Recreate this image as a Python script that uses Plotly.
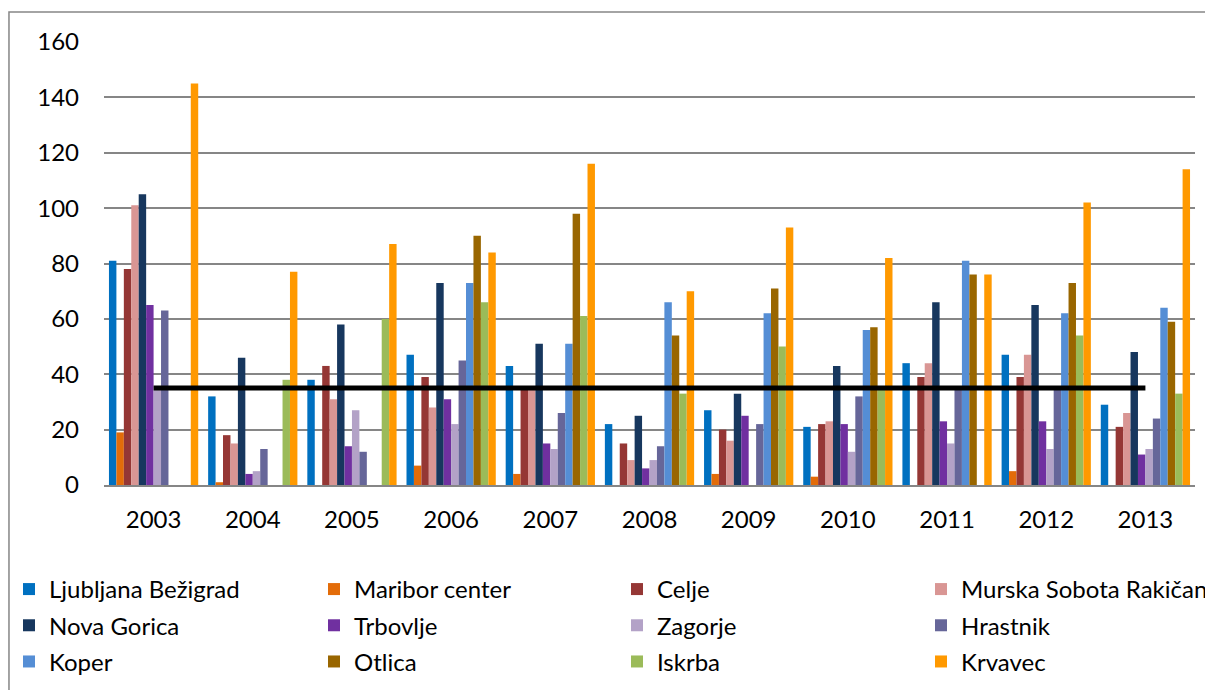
import plotly.graph_objects as go

years = ["2003", "2004", "2005", "2006", "2007", "2008", "2009", "2010", "2011", "2012", "2013"]

ljubljana_bezigrad = [81, 32, 38, 47, 43, 22, 27, 21, 44, 47, 29]
maribor_center = [19, 1, 0, 7, 4, 0, 4, 3, 0, 5, 0]
celje = [78, 18, 43, 39, 35, 15, 20, 22, 39, 39, 21]
murska_sobota = [101, 15, 31, 28, 35, 9, 16, 23, 44, 47, 26]
nova_gorica = [105, 46, 58, 73, 51, 25, 33, 43, 66, 65, 48]
trbovlje = [65, 4, 14, 31, 15, 6, 25, 22, 23, 23, 11]
zagorje = [35, 5, 27, 22, 13, 9, 0, 12, 15, 13, 13]
hrastnik = [63, 13, 12, 45, 26, 14, 22, 32, 35, 35, 24]
koper = [0, 0, 0, 73, 51, 66, 62, 56, 81, 62, 64]
otlica = [0, 0, 0, 90, 98, 54, 71, 57, 76, 73, 59]
iskrba = [0, 38, 60, 66, 61, 33, 50, 35, 0, 54, 33]
krvavec = [145, 77, 87, 84, 116, 70, 93, 82, 76, 102, 114]

limit_value = [35] * len(years)

series = [
    ("Ljubljana Bežigrad", ljubljana_bezigrad, "#0070C0"),
    ("Maribor center", maribor_center, "#E36C09"),
    ("Celje", celje, "#953735"),
    ("Murska Sobota Rakičan", murska_sobota, "#D99694"),
    ("Nova Gorica", nova_gorica, "#17375E"),
    ("Trbovlje", trbovlje, "#7030A0"),
    ("Zagorje", zagorje, "#B3A2C7"),
    ("Hrastnik", hrastnik, "#666699"),
    ("Koper", koper, "#558ED5"),
    ("Otlica", otlica, "#996600"),
    ("Iskrba", iskrba, "#9BBB59"),
    ("Krvavec", krvavec, "#FF9900"),
]

# one legend per column, so the legend reads in rows of four like the original
legend_names = ["legend", "legend2", "legend3", "legend4"]

fig = go.Figure()
for i, (name, values, color) in enumerate(series):
    fig.add_trace(
        go.Bar(
            x=years,
            y=values,
            name=name,
            marker=dict(color=color, line=dict(width=0)),
            legend=legend_names[i % 4],
            legendgroup=name,
        )
    )

# limit line (35) drawn across the categories
fig.add_trace(
    go.Scatter(
        x=years,
        y=limit_value,
        mode="lines",
        line=dict(color="black", width=5),
        showlegend=False,
        hoverinfo="skip",
    )
)

# outer chart frame
fig.add_shape(
    type="rect",
    xref="paper",
    yref="paper",
    x0=-0.0871,
    x1=1.2,
    y0=-1.0,
    y1=1.0677,
    line=dict(color="#868686", width=1.5),
    fillcolor="rgba(0,0,0,0)",
    layer="below",
)

legend_style = dict(
    orientation="v",
    xref="container",
    yref="container",
    xanchor="left",
    yanchor="top",
    y=0.1804,
    tracegroupgap=2,
    itemwidth=30,
    bgcolor="rgba(0,0,0,0)",
    font=dict(size=24),
)

# page body has an 8px margin, so the figure is 8px smaller than the window
W, H = 1205, 682

fig.update_layout(
    width=W,
    height=H,
    barmode="group",
    bargap=0.1,
    bargroupgap=0,
    plot_bgcolor="white",
    paper_bgcolor="white",
    font=dict(family="Lato, Open Sans, sans-serif", size=24, color="black"),
    margin=dict(l=96, r=18, t=34, b=205, autoexpand=False),
    xaxis=dict(
        showgrid=False,
        showline=True,
        linecolor="#868686",
        linewidth=2,
        ticks="",
        ticklabelstandoff=12,
        tickfont=dict(size=24),
    ),
    yaxis=dict(
        range=[0, 160],
        dtick=20,
        showgrid=True,
        gridcolor="#868686",
        gridwidth=1.5,
        zeroline=False,
        ticks="",
        ticklabelstandoff=24,
        tickfont=dict(size=24),
    ),
    legend=dict(legend_style, x=1 / W),
    legend2=dict(legend_style, x=306 / W),
    legend3=dict(legend_style, x=609 / W),
    legend4=dict(legend_style, x=913 / W),
)

fig.write_html("out.html")
